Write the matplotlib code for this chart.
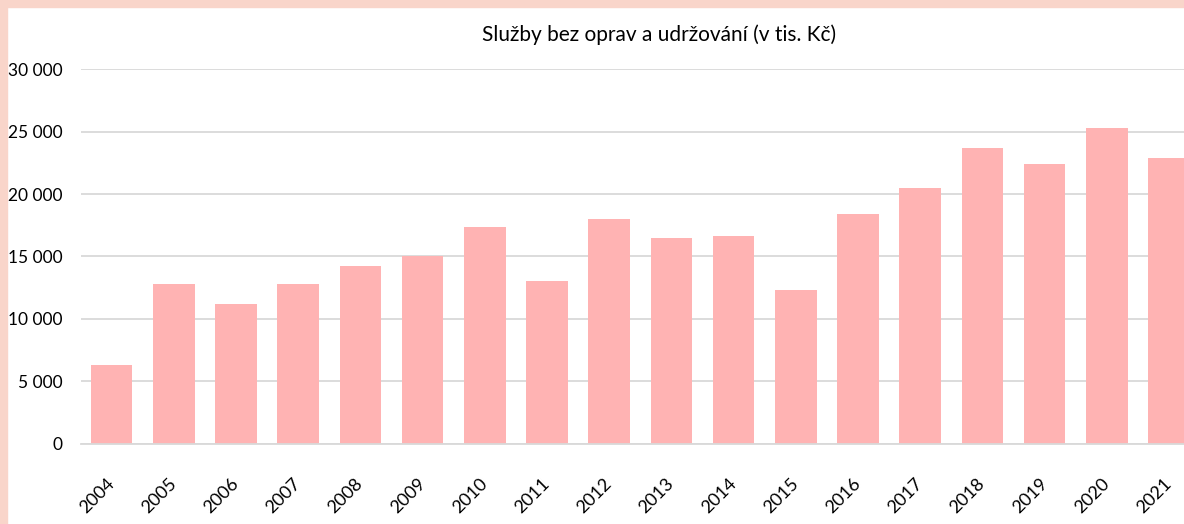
import matplotlib.pyplot as plt
from matplotlib.ticker import FuncFormatter
from matplotlib.patches import Rectangle

# Data (v tis. Kč)
years = [str(y) for y in range(2004, 2022)]
values = [6300, 12800, 11200, 12800, 14200, 15000, 17400, 13000, 18000,
          16500, 16600, 12300, 18400, 20500, 23700, 22400, 25300, 22900]
yticks = [0, 5000, 10000, 15000, 20000, 25000, 30000]

plt.rcParams['font.family'] = ['Lato', 'DejaVu Sans']

fig = plt.figure(figsize=(11.84, 5.24), dpi=100)
fig.patch.set_facecolor('white')

# peach frame on the left and top
border = '#F9D5CA'
fig.patches.append(Rectangle((0, 0), 7 / 1184, 1, transform=fig.transFigure,
                             color=border, zorder=-1))
fig.patches.append(Rectangle((0, 1 - 7 / 524), 1, 7 / 524, transform=fig.transFigure,
                             color=border, zorder=-1))

# plot area runs past the right edge (the chart is cropped)
ax = fig.add_axes([0.068, 0.1527, 0.9456, 0.7156])
x = range(len(years))
ax.bar(x, values, width=0.667, color='#FFB3B3', zorder=2)

ax.set_xlim(-0.5, len(years) - 0.5)
ax.set_ylim(0, 30000)
ax.set_yticks(yticks)
ax.yaxis.set_major_formatter(FuncFormatter(lambda v, p: f'{int(v):,}'.replace(',', ' ')))
ax.grid(axis='y', color='#D9D9D9', linewidth=1.3, zorder=0)
ax.set_axisbelow(True)

for s in ['top', 'right', 'left']:
    ax.spines[s].set_visible(False)
ax.spines['bottom'].set_color('#D9D9D9')
ax.spines['bottom'].set_linewidth(1.3)

ax.set_xticks(list(x))
ax.set_xticklabels(years, rotation=45, ha='right', va='center', rotation_mode='anchor')
ax.tick_params(axis='x', length=0, pad=27, labelsize=13)
ax.tick_params(axis='y', length=0, pad=13, labelsize=12.5)
for lab in ax.get_xticklabels():
    lab.set_x(lab.get_position()[0])

fig.text(0.557, 0.933, 'Služby bez oprav a udržování (v tis. Kč)',
         ha='center', va='center', fontsize=15)

fig.savefig('out.png', dpi=100)
